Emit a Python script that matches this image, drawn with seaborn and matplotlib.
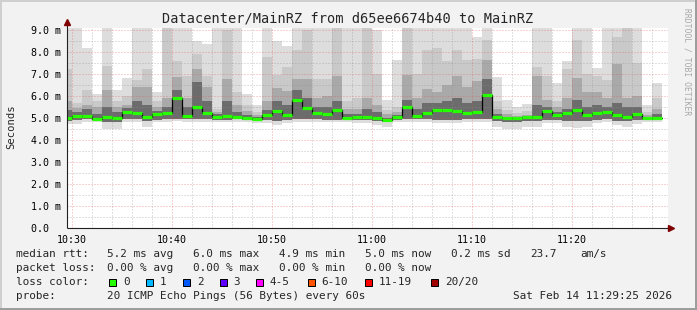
import numpy as np
import pandas as pd
import matplotlib
matplotlib.use("Agg")
import matplotlib.pyplot as plt
from matplotlib.lines import Line2D
from matplotlib.patches import Rectangle
import seaborn as sns

# ---------------- data ----------------
title = "Datacenter/MainRZ from d65ee6674b40 to MainRZ"
# sample start, minutes relative to 10:30 (first sample is partially visible)
sample_start = list(range(-1, 59))

median_ms = [5.02, 5.10, 5.10, 4.99, 5.07, 5.03, 5.29, 5.26, 5.07, 5.21,
             5.24, 5.93, 5.10, 5.52, 5.24, 5.07, 5.10, 5.04, 5.00, 4.99,
             5.13, 5.33, 5.13, 5.84, 5.48, 5.24, 5.18, 5.38, 5.02, 5.08,
             5.07, 5.00, 4.93, 5.07, 5.52, 5.12, 5.26, 5.37, 5.37, 5.33,
             5.25, 5.27, 6.07, 5.07, 5.00, 5.00, 5.08, 5.08, 5.35, 5.15,
             5.22, 5.39, 5.14, 5.25, 5.30, 5.15, 5.08, 5.20, 5.00, 5.00]

# smoke: top of the outer (lightest) band ... top of the inner (darkest) band
smoke_top1 = [9.3, 9.3, 8.2, 6.1, 9.3, 6.3, 6.85, 9.3, 9.3, 6.2,
              9.3, 9.3, 9.3, 8.5, 8.4, 9.3, 9.3, 9.3, 6.1, 5.6,
              9.3, 8.5, 8.3, 9.3, 9.3, 9.3, 9.3, 9.3, 9.3, 9.3,
              9.3, 9.0, 5.83, 7.63, 9.3, 9.3, 9.3, 9.3, 9.3, 9.3,
              9.3, 8.68, 9.3, 6.9, 5.83, 5.5, 5.67, 9.3, 9.3, 6.6,
              7.6, 9.3, 9.3, 7.27, 9.3, 9.3, 9.3, 9.3, 5.6, 6.6]
smoke_top2 = [7.25, 5.7, 6.3, 5.8, 7.37, 5.8, 6.0, 6.75, 7.25, 5.8,
              9.3, 7.6, 6.9, 7.9, 6.9, 5.4, 9.0, 6.2, 5.6, 5.3,
              7.8, 6.95, 7.35, 8.1, 9.0, 6.8, 6.8, 9.3, 5.8, 5.9,
              9.3, 7.0, 5.4, 5.5, 9.3, 7.0, 8.1, 8.2, 7.6, 8.1,
              7.67, 7.7, 8.55, 5.8, 5.4, 5.25, 5.35, 7.35, 6.9, 5.8,
              7.25, 8.55, 7.0, 6.9, 6.74, 8.7, 9.3, 7.5, 5.3, 5.9]
smoke_top3 = [5.8, 5.45, 5.6, 5.5, 6.3, 5.5, 5.6, 6.4, 6.4, 5.5,
              5.9, 6.9, 5.9, 7.25, 6.4, 5.3, 6.8, 5.6, 5.35, 5.15,
              5.8, 6.4, 6.25, 6.8, 6.8, 5.9, 6.0, 6.9, 5.4, 5.4,
              5.9, 5.6, 5.2, 5.3, 6.95, 5.9, 6.35, 6.2, 6.5, 6.9,
              6.4, 6.7, 7.65, 5.4, 5.2, 5.1, 5.15, 6.9, 5.83, 5.5,
              5.9, 6.85, 6.2, 6.2, 5.9, 7.48, 5.9, 6.0, 5.15, 5.4]
smoke_top4 = [5.4, 5.3, 5.4, 5.2, 5.5, 5.3, 5.45, 5.8, 5.6, 5.35,
              5.5, 6.3, 5.5, 6.65, 5.8, 5.2, 5.8, 5.3, 5.15, 5.05,
              5.4, 5.8, 5.6, 6.3, 5.9, 5.5, 5.5, 5.8, 5.2, 5.2,
              5.4, 5.3, 5.0, 5.15, 5.83, 5.4, 5.7, 5.7, 5.8, 5.9,
              5.7, 5.8, 6.8, 5.2, 5.05, 5.0, 5.05, 5.6, 5.5, 5.3,
              5.4, 5.85, 5.5, 5.6, 5.5, 5.7, 5.5, 5.5, 5.05, 5.2]
smoke_low = [4.72, 4.72, 4.85, 4.85, 4.52, 4.52, 4.85, 4.85, 4.62, 4.82,
             4.85, 4.88, 4.85, 4.85, 4.85, 4.82, 4.82, 4.85, 4.85, 4.8,
             4.8, 4.7, 4.8, 4.85, 4.85, 4.85, 4.82, 4.82, 4.85, 4.8,
             4.8, 4.7, 4.6, 4.85, 4.85, 4.85, 4.85, 4.8, 4.8, 4.8,
             4.85, 4.85, 4.85, 4.6, 4.5, 4.5, 4.6, 4.62, 4.8, 4.8,
             4.6, 4.58, 4.6, 4.8, 4.85, 4.7, 4.62, 4.75, 4.85, 4.85]
smoke_low_core = [4.9, 4.92, 4.95, 4.92, 4.85, 4.85, 4.95, 4.95, 4.88, 4.93,
                  4.95, 4.97, 4.95, 4.95, 4.95, 4.93, 4.93, 4.95, 4.93, 4.92,
                  4.92, 4.9, 4.93, 4.95, 4.95, 4.95, 4.93, 4.93, 4.95, 4.93,
                  4.93, 4.9, 4.85, 4.93, 4.95, 4.95, 4.95, 4.93, 4.93, 4.93,
                  4.95, 4.95, 4.97, 4.88, 4.85, 4.85, 4.88, 4.88, 4.93, 4.93,
                  4.88, 4.88, 4.9, 4.93, 4.95, 4.9, 4.88, 4.92, 4.93, 4.93]

y_ticks = [0, 1, 2, 3, 4, 5, 6, 7, 8, 9]
y_tick_labels = ["0.0  ", "1.0 m", "2.0 m", "3.0 m", "4.0 m", "5.0 m",
                 "6.0 m", "7.0 m", "8.0 m", "9.0 m"]
x_ticks = [0, 10, 20, 30, 40, 50]
x_tick_labels = ["10:30", "10:40", "10:50", "11:00", "11:10", "11:20"]

loss_labels = ["0", "1", "2", "3", "4-5", "6-10", "11-19", "20/20"]
loss_colors = ["#26ff00", "#00b8ff", "#0059ff", "#5e00ff", "#ff00ff",
               "#ff5500", "#ff0000", "#a10000"]

# ---------------- style ----------------
sns.set_style("white")
plt.rcParams["font.family"] = ["DejaVu Sans Mono"]

W, H = 697, 310
fig = plt.figure(figsize=(W / 100, H / 100), dpi=100)
fig.patch.set_facecolor("#f2f2f2")

def fx(px):
    return px / W

def fy(py):
    return 1 - py / H

ax_left, ax_right, ax_top, ax_bot = 67, 668, 28, 228.3
ax = fig.add_axes([fx(ax_left), fy(ax_bot), (ax_right - ax_left) / W, (ax_bot - ax_top) / H])
ax.set_facecolor("white")
ymax = (ax_bot - ax_top) / 22.0
ax.set_xlim(-0.5, 59.6)
ax.set_ylim(0, ymax)

df = pd.DataFrame({"t": sample_start, "median": median_ms,
                   "top1": smoke_top1, "top2": smoke_top2,
                   "top3": smoke_top3, "top4": smoke_top4,
                   "low": smoke_low, "low_core": smoke_low_core})

# smoke bands
layers = [("top1", "low", "#dddddd"),
          ("top2", "low_core", "#c9c9c9"),
          ("top3", "low_core", "#a9a9a9"),
          ("top4", "low_core", "#6c6c6c")]
for top, bot, col in layers:
    ax.bar(df["t"], df[top] - df[bot], bottom=df[bot], width=1.0, align="edge",
           color=col, linewidth=0, zorder=2)

# grid on top of smoke (dotted)
grid_c = (0.56, 0.56, 0.56, 0.55)
mgrid_c = (0.87, 0.31, 0.31, 0.50)
for v in np.arange(0.5, ymax, 0.5):
    major = abs(v - round(v)) < 1e-6
    ax.axhline(v, color=mgrid_c if major else grid_c, lw=0.72,
               ls=(0, (1, 2)), zorder=3)
for m in range(0, 60, 2):
    major = m % 10 == 0
    ax.axvline(m, color=mgrid_c if major else grid_c, lw=0.72,
               ls=(0, (1, 2)), zorder=3)

# median line
step_df = pd.DataFrame({"t": sample_start + [sample_start[-1] + 1],
                        "median": median_ms + [median_ms[-1]]})
sns.lineplot(data=step_df, x="t", y="median", drawstyle="steps-post",
             color="#000000", linewidth=0.9, ax=ax, legend=False,
             estimator=None, zorder=4)
ax.hlines(df["median"], df["t"], df["t"] + 1, color=loss_colors[0],
          linewidth=2.3, zorder=5)

# axes
for s in ax.spines.values():
    s.set_visible(False)
ax.set_xlabel("")
ax.set_ylabel("")
ax.set_xticks(x_ticks)
ax.set_xticklabels(x_tick_labels)
ax.set_yticks(y_ticks)
ax.set_yticklabels(y_tick_labels)
ax.tick_params(axis="both", labelsize=7.2, colors="#212121", length=2,
               width=0.72, direction="out", pad=2)
ax.tick_params(axis="x", pad=3)
for lab in ax.get_yticklabels():
    lab.set_color("#000000")
for lab in ax.get_xticklabels():
    lab.set_color("#000000")

axis_c = "#212121"
arrow_c = "#800000"
ax.plot([0, 0], [0, 1.025], transform=ax.transAxes, color=axis_c, lw=0.8,
        clip_on=False, zorder=6, solid_capstyle="butt")
ax.plot([0, 1.0], [0, 0], transform=ax.transAxes, color=axis_c, lw=0.8,
        clip_on=False, zorder=6, solid_capstyle="butt")
ax.plot([0], [1.03], marker="^", markersize=4, color=arrow_c,
        transform=ax.transAxes, clip_on=False, zorder=7)
ax.plot([1.005], [0], marker=">", markersize=4, color=arrow_c,
        transform=ax.transAxes, clip_on=False, zorder=7)

# title, labels, watermark
fig.text(fx(348), fy(19), title, ha="center", va="center", fontsize=9.8)
fig.text(fx(11), fy(127), "Seconds", rotation=90, ha="center", va="center",
         fontsize=7.6)
fig.text(fx(687), fy(62), "RRDTOOL / TOBI OETIKER", rotation=270,
         ha="center", va="center", fontsize=5.8, color="#a8a8a8")

# legend lines
fs = 7.9
row_y = [254, 268, 282, 296]
fig.text(fx(16), fy(row_y[0]), "median rtt:", va="center", fontsize=fs)
for x, s in [(107, "5.2 ms avg"), (193, "6.0 ms max"), (279, "4.9 ms min"),
             (365, "5.0 ms now"), (451, "0.2 ms sd"), (530, "23.7"), (580, "am/s")]:
    fig.text(fx(x), fy(row_y[0]), s, va="center", fontsize=fs)
fig.text(fx(16), fy(row_y[1]), "packet loss:", va="center", fontsize=fs)
for x, s in [(107, "0.00 % avg"), (193, "0.00 % max"), (279, "0.00 % min"),
             (365, "0.00 % now")]:
    fig.text(fx(x), fy(row_y[1]), s, va="center", fontsize=fs)
fig.text(fx(16), fy(row_y[2]), "loss color:", va="center", fontsize=fs)
box_x = [109, 146, 183, 219.5, 256, 307.5, 365, 431]
for bx, lab, col in zip(box_x, loss_labels, loss_colors):
    fig.add_artist(Rectangle((fx(bx), fy(row_y[2] + 3.5)), 7 / W, 7 / H,
                             transform=fig.transFigure, facecolor=col,
                             edgecolor="black", linewidth=0.72))
    fig.text(fx(bx + 14), fy(row_y[2]), lab, va="center", fontsize=fs)
fig.text(fx(16), fy(row_y[3]), "probe:", va="center", fontsize=fs)
fig.text(fx(107), fy(row_y[3]), "20 ICMP Echo Pings (56 Bytes) every 60s",
         va="center", fontsize=fs)
fig.text(fx(513), fy(row_y[3]), "Sat Feb 14 11:29:25 2026", va="center",
         fontsize=fs)

# frame (shade a / shade b)
fig.add_artist(Line2D([0, 1], [1 - 1 / H, 1 - 1 / H], transform=fig.transFigure,
                      color="#cfcfcf", lw=1.44))
fig.add_artist(Line2D([1 / W, 1 / W], [0, 1], transform=fig.transFigure,
                      color="#cfcfcf", lw=1.44))
fig.add_artist(Line2D([0, 1], [1 / H, 1 / H], transform=fig.transFigure,
                      color="#9e9e9e", lw=1.44))
fig.add_artist(Line2D([1 - 1 / W, 1 - 1 / W], [0, 1], transform=fig.transFigure,
                      color="#9e9e9e", lw=1.44))

fig.savefig("out.png", dpi=100, facecolor=fig.get_facecolor())
